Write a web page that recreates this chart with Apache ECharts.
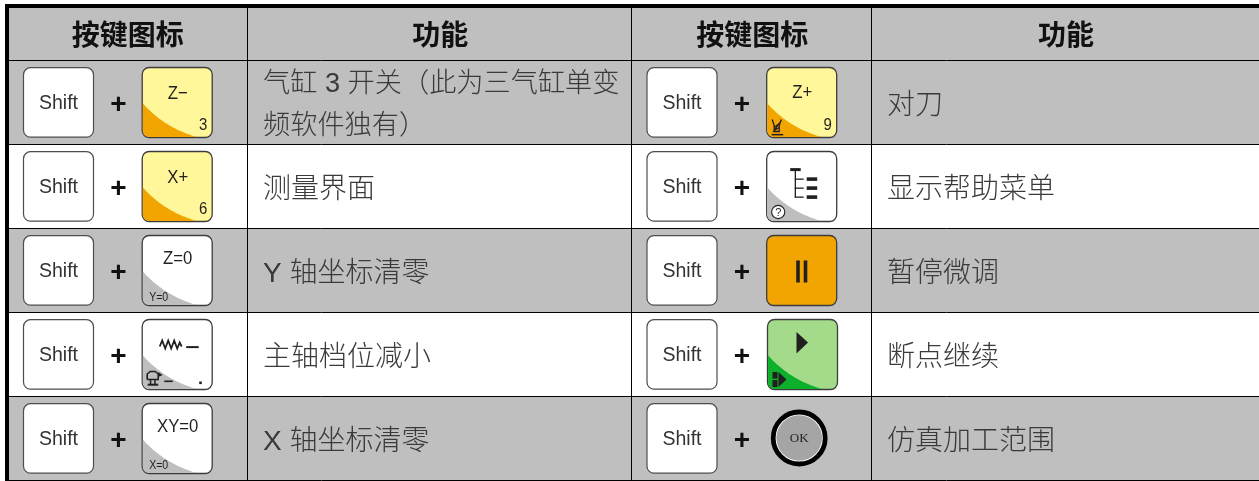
<!DOCTYPE html>
<html>
<head>
<meta charset="utf-8">
<style>
  html, body { margin: 0; padding: 0; background: #fff; }
  #chart { width: 1259px; height: 481px; }
</style>
<script src="https://cdn.jsdelivr.net/npm/echarts@6/dist/echarts.min.js"></script>
</head>
<body>
<div id="chart"></div>
<script>
// table content
const headers = ['按键图标', '功能', '按键图标', '功能'];
const leftKeys = ['z-', 'x+', 'z0', 'spindle', 'xy0'];
const leftFunctions = ['气缸 3 开关（此为三气缸单变\n频软件独有）', '测量界面', 'Y 轴坐标清零', '主轴档位减小', 'X 轴坐标清零'];
const rightKeys = ['z+', 'help', 'pause', 'resume', 'ok'];
const rightFunctions = ['对刀', '显示帮助菜单', '暂停微调', '断点继续', '仿真加工范围'];
const modifierKey = 'Shift';

// table layout, in axis units (one unit is one pixel of the 1259x481 page)
const rowEdges = [60.5, 144.5, 228.5, 312.5, 396.5, 480.5];
const colEdges = [9, 247.5, 631.5, 871.5, 1259];
const rowFill = ['#bfbfbf', '#ffffff', '#bfbfbf', '#ffffff', '#bfbfbf'];
const sans = '"Liberation Sans", "Noto Sans CJK SC", sans-serif';
const ink = '#231f20';

function text(str, x, y, size, opts) {
  opts = opts || {};
  return {
    type: 'text', x: x, y: y, silent: true,
    scaleX: opts.scaleX || 1,
    style: {
      text: str, fill: opts.fill || ink, fontSize: size,
      fontFamily: opts.family || sans, fontWeight: opts.weight || 'normal',
      align: opts.align || 'center', verticalAlign: 'middle', lineHeight: opts.lineHeight
    }
  };
}
function keyLabel(str, x, y, size) {
  return text(str, x, y, size, { scaleX: 0.88 });
}
function box(x, y, w, h, fill) {
  return { type: 'rect', silent: true, shape: { x: x, y: y, width: w, height: h }, style: { fill: fill } };
}
function keyBody(fill, stroke) {
  return {
    type: 'rect', silent: true,
    shape: { x: 0, y: 0, width: 70, height: 70, r: 7 },
    style: { fill: fill, stroke: stroke || '#3c3c3c', lineWidth: 1.3 }
  };
}
function corner(fill) {
  return {
    type: 'polygon', silent: true,
    shape: { points: cornerPoints() },
    style: { fill: fill }
  };
}
function cornerPoints() {
  const pts = [];
  // quadratic sag from the left edge to the bottom edge of the key
  for (let i = 0; i <= 20; i++) {
    const t = i / 20, u = 1 - t;
    pts.push([u * u * 0.6 + 2 * u * t * 22 + t * t * 54, u * u * 36 + 2 * u * t * 60 + t * t * 69.4]);
  }
  pts.push([6, 69.4], [2, 67.5], [0.6, 64]);
  return pts;
}
function stroked(points, width) {
  return { type: 'polyline', silent: true, shape: { points: points }, style: { stroke: ink, lineWidth: width, fill: null } };
}
function triangle(points) {
  return { type: 'polygon', silent: true, shape: { points: points }, style: { fill: ink } };
}

function keyChildren(id) {
  const yellow = '#fff799', orange = '#f2a500', gray = '#bebebe';
  switch (id) {
    case 'z-':
      return [keyBody(yellow), corner(orange), keyLabel('Z−', 35.5, 26, 19), keyLabel('3', 61, 58, 17)];
    case 'x+':
      return [keyBody(yellow), corner(orange), keyLabel('X+', 35.5, 26, 19), keyLabel('6', 61, 58, 17)];
    case 'z0':
      return [keyBody('#fff'), corner(gray), keyLabel('Z=0', 35.5, 23.5, 19), keyLabel('Y=0', 16.5, 62.5, 12)];
    case 'xy0':
      return [keyBody('#fff'), corner(gray), keyLabel('XY=0', 35.5, 23.5, 19), keyLabel('X=0', 16.5, 62.5, 12)];
    case 'spindle':
      return [
        keyBody('#fff'), corner(gray),
        stroked([[17.5, 27], [20, 21], [23, 29], [26, 21], [29, 29], [32, 21], [35, 29], [37.5, 23], [39.5, 27]], 1.8),
        box(44, 26.6, 12.5, 2, ink),
        stroked([[5, 60], [5, 54.5], [8, 52], [13, 52], [16, 54.5], [16, 60], [5, 60]], 1.6),
        triangle([[16, 52.5], [20.5, 55.5], [16, 57.5]]),
        box(7.6, 60, 1.5, 4.5, ink), box(12, 60, 1.5, 4.5, ink), box(5.5, 64.2, 10.5, 2, ink),
        box(22, 61, 8.5, 1.6, ink),
        box(57, 62, 2.6, 2.6, ink)
      ];
    case 'z+':
      return [
        keyBody(yellow), corner(orange),
        keyLabel('Z+', 35.5, 25, 19), keyLabel('9', 61, 58, 17),
        stroked([[5.5, 52], [7.5, 58], [7.5, 64], [12.5, 64], [12.5, 58], [14.5, 52]], 1.3),
        stroked([[7.5, 60], [12.5, 56], [7.5, 63], [12.5, 60]], 1.2),
        box(5, 66.4, 11.5, 1.5, ink)
      ];
    case 'help':
      return [
        keyBody('#fff'), corner(gray),
        box(23.5, 16.6, 10.5, 3, ink), box(28, 19, 1.3, 27, ink),
        box(28, 27, 9, 1.3, ink), box(28, 36, 9, 1.3, ink), box(28, 45, 9, 1.3, ink),
        box(40, 25.8, 10.5, 3.6, ink), box(40, 34.8, 10.5, 3.6, ink), box(40, 43.8, 10.5, 3.6, ink),
        { type: 'circle', silent: true, shape: { cx: 11.5, cy: 60.5, r: 6.6 }, style: { fill: '#fff', stroke: ink, lineWidth: 1.1 } },
        text('?', 11.5, 61, 11, {})
      ];
    case 'pause':
      return [keyBody(orange), box(29.5, 25, 3.6, 22, ink), box(37, 25, 3.6, 22, ink)];
    case 'resume':
      return [
        keyBody('#a3db8a'), corner('#0db02b'),
        triangle([[29, 12.5], [40.5, 23], [29, 34]]),
        box(5, 52.5, 5, 6.6, ink), box(5, 60.5, 5, 7, ink),
        triangle([[11, 52.5], [19, 60], [11, 67.5]])
      ];
    case 'ok':
      return [
        { type: 'circle', silent: true, shape: { cx: 32.5, cy: 34.5, r: 26 }, style: { fill: '#fff', stroke: '#000', lineWidth: 4.8 } },
        { type: 'circle', silent: true, shape: { cx: 32.5, cy: 34.5, r: 22.8 }, style: { fill: '#a5a5a5' } },
        text('OK', 32.5, 35, 13, { family: '"Liberation Serif", serif', fill: '#222' })
      ];
  }
  return [];
}

// one key pair: Shift + <key>, offsets relative to the cell's left edge
function keyPair(id, cellLeft, keyOffset) {
  return {
    type: 'group', children: [
      { type: 'group', x: cellLeft + 14.5, y: 7.2, children: [
        { type: 'rect', silent: true, shape: { x: 0, y: 0, width: 70, height: 69.5, r: 7 }, style: { fill: '#fff', stroke: '#4d4d4d', lineWidth: 1.2 } },
        text(modifierKey, 35, 35.5, 19.5, { fill: '#333' })
      ] },
      text('+', cellLeft + 109.5, 44.5, 28, { weight: 'bold', fill: '#111' }),
      { type: 'group', x: cellLeft + keyOffset, y: 7, children: keyChildren(id) }
    ]
  };
}

function renderHeader(params, api) {
  const top = api.coord([0, 8]), bottom = api.coord([0, rowEdges[0]]);
  const kids = [box(colEdges[0], top[1], 1259 - colEdges[0], bottom[1] - top[1], '#bfbfbf')];
  headers.forEach(function (h, i) {
    const mid = api.coord([(colEdges[i] + colEdges[i + 1]) / 2, 0])[0];
    kids.push(text(h, i === 0 ? mid - 0.5 : mid + 0.8, 34.5, 28, { weight: 'bold', fill: '#111', family: '"Noto Sans CJK SC", sans-serif' }));
  });
  return { type: 'group', children: kids };
}

function renderRow(params, api) {
  const row = api.value(0);
  const y0 = api.coord([0, rowEdges[row]])[1], y1 = api.coord([0, rowEdges[row + 1]])[1];
  const kids = [box(colEdges[0], 0, 1259 - colEdges[0], y1 - y0, rowFill[row])];
  const rightOffset = rightKeys[row] === 'resume' ? 136 : 135.2;
  kids.push(keyPair(leftKeys[row], colEdges[0], 133.2));
  kids.push(keyPair(rightKeys[row], colEdges[2] + 1, rightOffset - 1));
  const textY = (y1 - y0) / 2 + 3.5;
  const style = { align: 'left', fill: '#3a3a3a', weight: 300, lineHeight: 42 };
  // the two-line cell has full-width brackets, set slightly tighter to fit the column
  const leftSize = leftFunctions[row].indexOf('\n') >= 0 ? 27.2 : 28;
  kids.push(text(leftFunctions[row], colEdges[1] + 15.5, textY, leftSize, style));
  kids.push(text(rightFunctions[row], colEdges[3] + 15.5, textY, 28, style));
  return { type: 'group', y: y0, children: kids };
}

function renderFrame(params, api) {
  const kids = [
    box(5, 4, 1254, 4, '#000'), box(5, 4, 4, 477, '#000')
  ];
  rowEdges.forEach(function (y) {
    const p = api.coord([0, y])[1];
    kids.push({ type: 'line', silent: true, shape: { x1: 9, y1: p, x2: 1259, y2: p }, style: { stroke: '#000', lineWidth: 1 } });
  });
  colEdges.slice(1, 4).forEach(function (x) {
    const p = api.coord([x, 0])[0];
    kids.push({ type: 'line', silent: true, shape: { x1: p, y1: 8, x2: p, y2: 480.5 }, style: { stroke: '#000', lineWidth: 1 } });
  });
  return { type: 'group', children: kids };
}

const chart = echarts.init(document.getElementById('chart'), null, { renderer: 'canvas' });
chart.setOption({
  animation: false,
  backgroundColor: '#ffffff',
  tooltip: { show: false },
  grid: { left: 0, right: 0, top: 0, bottom: 0 },
  xAxis: { type: 'value', min: 0, max: 1259, show: false },
  yAxis: { type: 'value', min: 0, max: 481, inverse: true, show: false },
  series: [
    { type: 'custom', clip: false, silent: true, renderItem: renderHeader, data: [[0]], z: 1 },
    { type: 'custom', clip: false, silent: true, renderItem: renderRow, data: leftKeys.map(function (k, i) { return [i]; }), encode: { x: -1, y: -1 }, z: 2 },
    { type: 'custom', clip: false, silent: true, renderItem: renderFrame, data: [[0]], z: 3 }
  ]
});
</script>
</body>
</html>
